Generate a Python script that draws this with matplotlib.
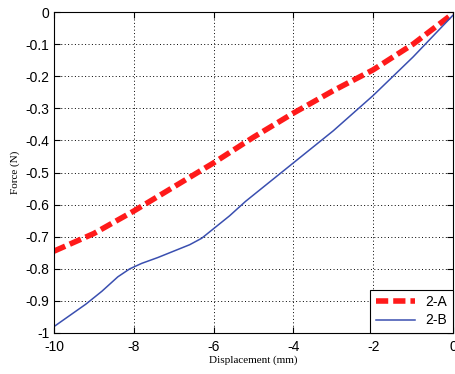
import matplotlib
matplotlib.use('Agg')
import matplotlib.pyplot as plt
import numpy as np

# data
disp_a = [-10, -9, -8, -7, -6, -5, -4, -3, -2, -1, 0]
force_a = [-0.745, -0.69, -0.62, -0.545, -0.47, -0.39, -0.315, -0.245, -0.18, -0.1, -0.005]

disp_b = [-10, -9.6, -9.2, -8.8, -8.4, -8.1, -7.8, -7.4, -7.0, -6.6, -6.3, -6.0, -5.6, -5.2, -4.8, -4.4, -4, -3.5, -3, -2.5, -2, -1.5, -1, -0.5, 0]
force_b = [-0.98, -0.945, -0.91, -0.87, -0.825, -0.8, -0.783, -0.765, -0.745, -0.725, -0.705, -0.675, -0.635, -0.59, -0.55, -0.51, -0.47, -0.42, -0.37, -0.315, -0.26, -0.2, -0.14, -0.075, -0.01]

xticks = [-10, -8, -6, -4, -2, 0]
yticks = [0, -0.1, -0.2, -0.3, -0.4, -0.5, -0.6, -0.7, -0.8, -0.9, -1]
ytick_labels = ['0', '-0.1', '-0.2', '-0.3', '-0.4', '-0.5', '-0.6', '-0.7', '-0.8', '-0.9', '-1']

fig = plt.figure(figsize=(4.56, 3.74), dpi=100)
ax = fig.add_axes([54/456, 1 - 333/374, 399/456, 321/374])

ax.plot(disp_a, force_a, color='#ff1a1a', lw=4, ls=(0, (2.2, 0.9)), label='2-A')
ax.plot(disp_b, force_b, color='#3a4fb0', lw=1.1, label='2-B')

ax.set_xlim(-10, 0)
ax.set_ylim(-1, 0)
ax.set_xticks(xticks)
ax.set_xticklabels([str(t) for t in xticks])
ax.set_yticks(yticks)
ax.set_yticklabels(ytick_labels)
ax.tick_params(direction='in', labelsize=10, length=4, top=True, right=True)
ax.tick_params(axis='x', pad=5)
for lab in ax.get_xticklabels() + ax.get_yticklabels():
    lab.set_fontfamily('Liberation Sans')
ax.grid(True, color='black', ls=(0, (1, 2.5)), lw=0.7)

ax.set_xlabel('Displacement (mm)', fontfamily='Liberation Serif', fontsize=8, labelpad=1)
ax.set_ylabel('Force (N)', fontfamily='Liberation Serif', fontsize=8, labelpad=4)

leg = ax.legend(loc='lower right', fancybox=False, edgecolor='black', framealpha=1,
                prop={'family': 'Liberation Sans', 'size': 10}, handlelength=2.8,
                borderaxespad=0, labelspacing=0.3)
leg.get_frame().set_linewidth(0.8)

fig.savefig('out.png', dpi=100)
